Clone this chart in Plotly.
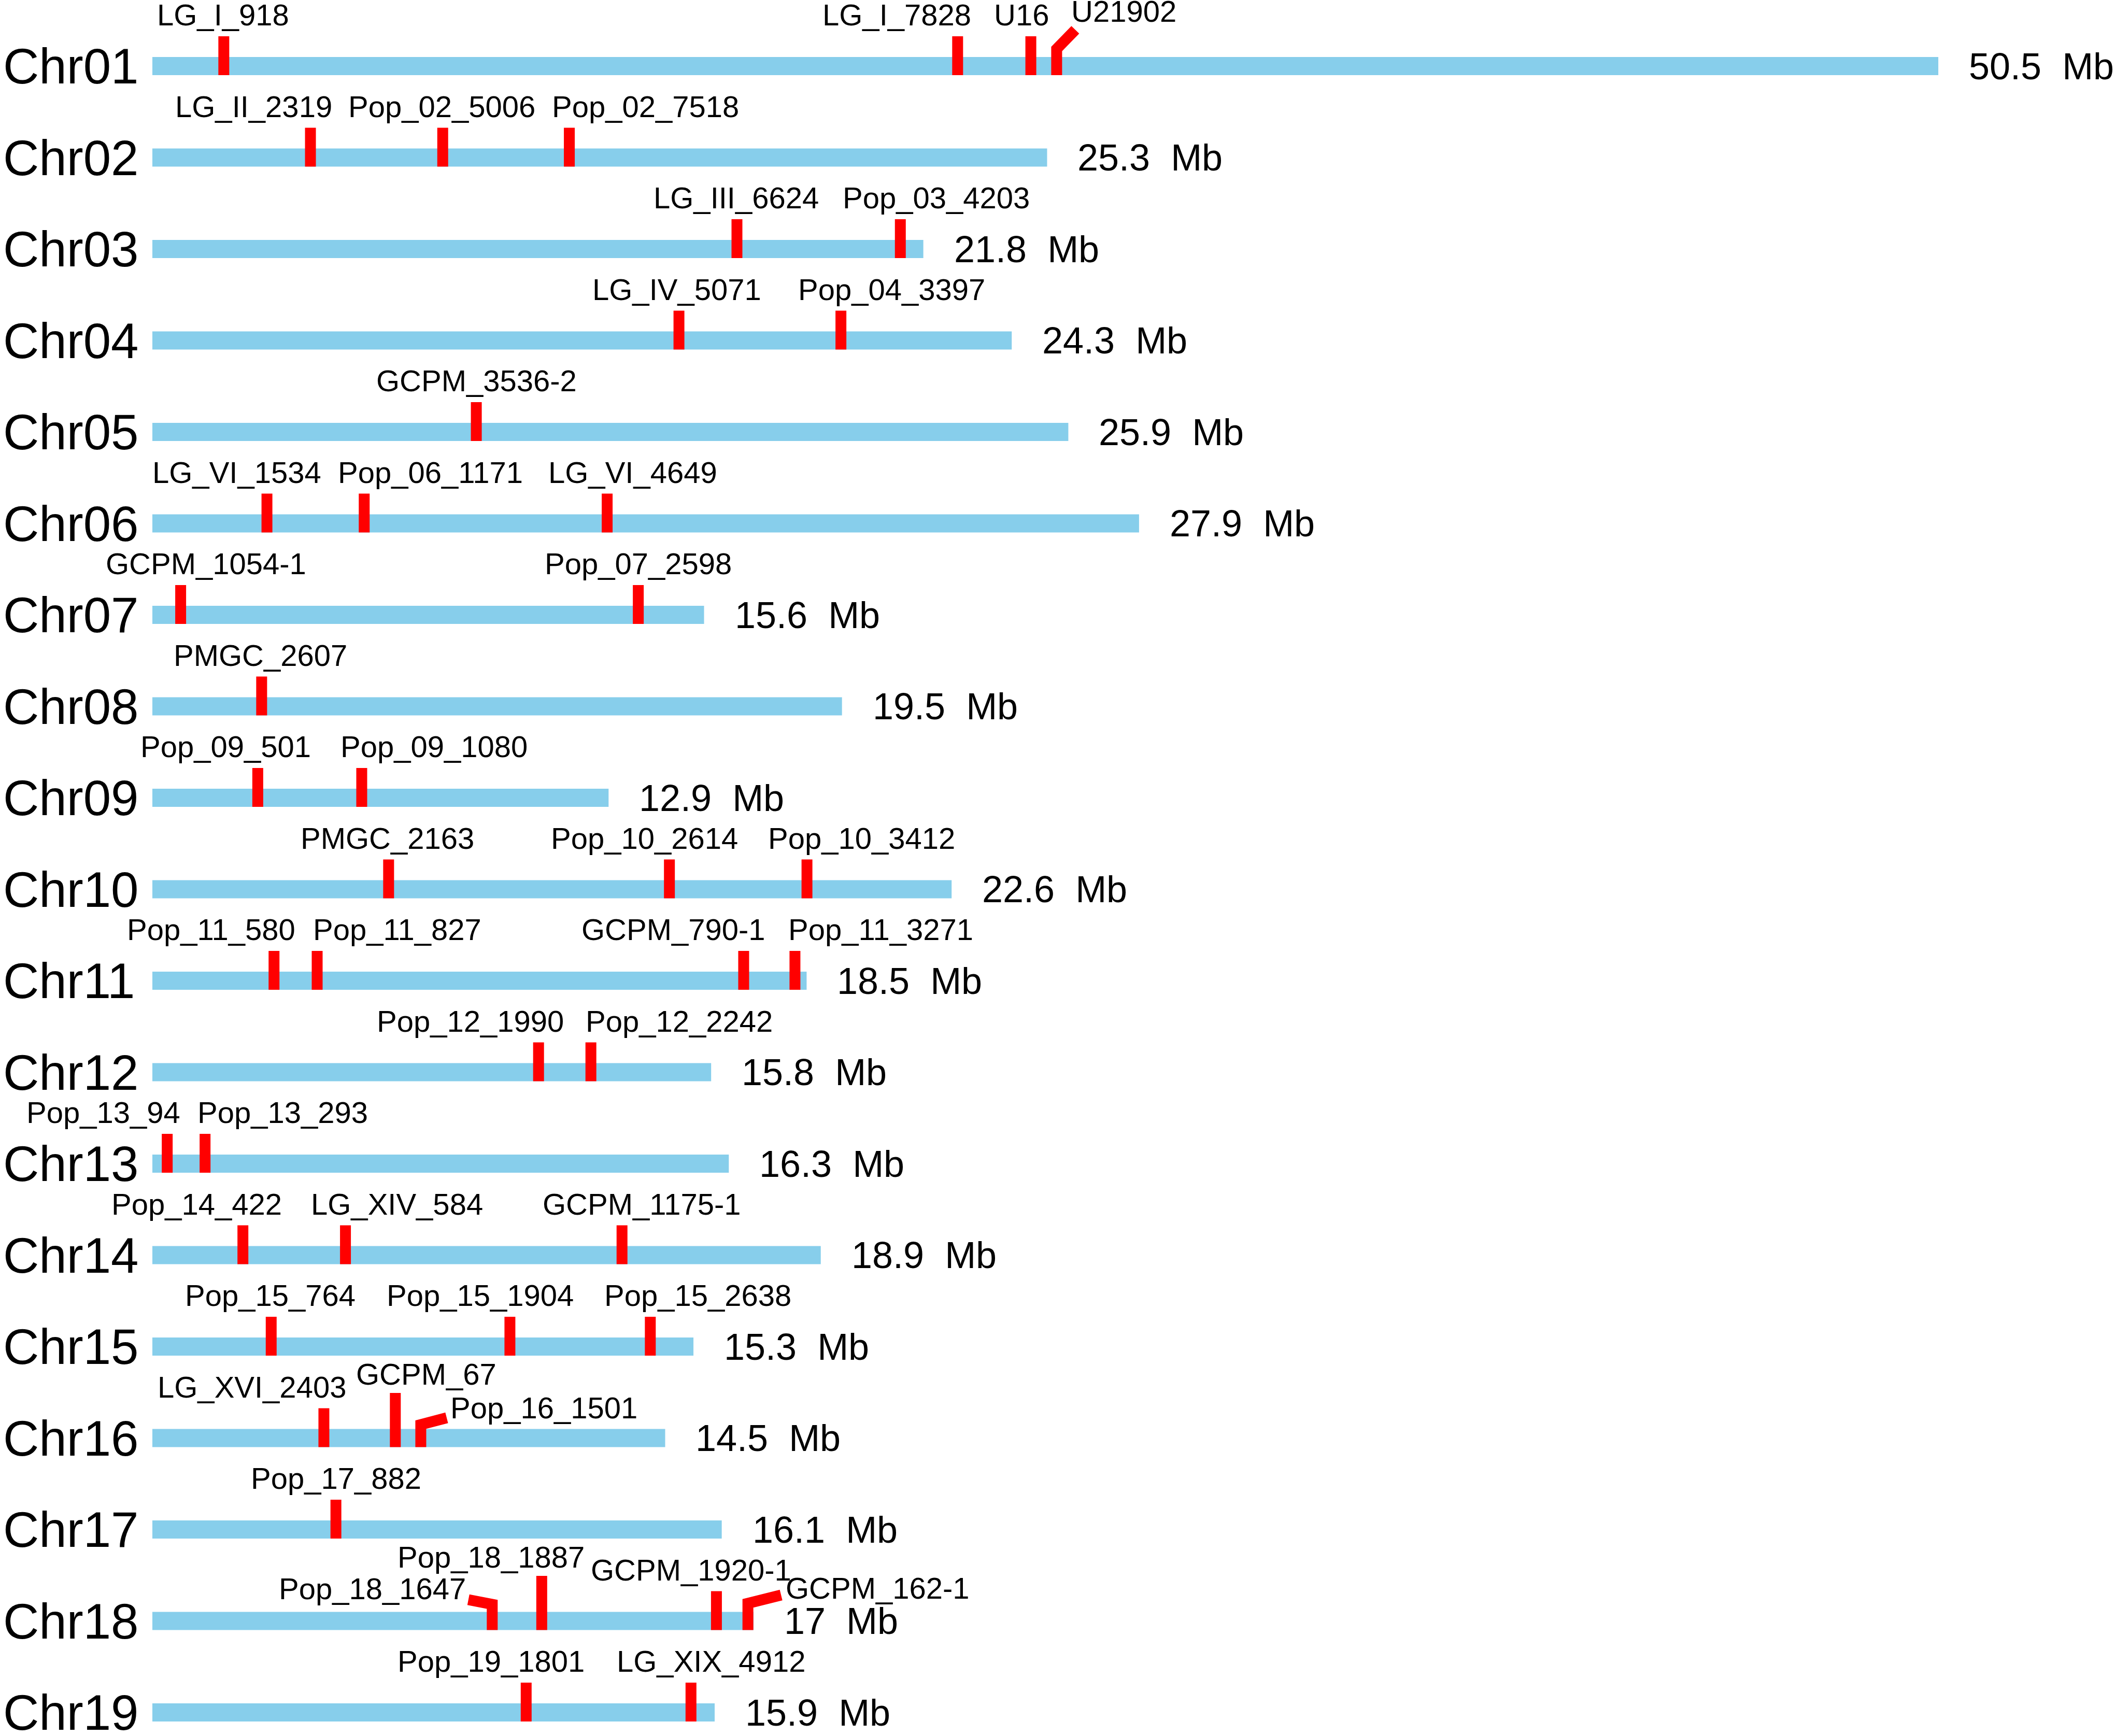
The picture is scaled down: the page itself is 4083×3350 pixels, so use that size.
import plotly.graph_objects as go

# ---------------- data ----------------
chromosomes = ["Chr01", "Chr02", "Chr03", "Chr04", "Chr05", "Chr06", "Chr07", "Chr08", "Chr09", "Chr10",
               "Chr11", "Chr12", "Chr13", "Chr14", "Chr15", "Chr16", "Chr17", "Chr18", "Chr19"]
chrom_lengths = [50.5, 25.3, 21.8, 24.3, 25.9, 27.9, 15.6, 19.5, 12.9, 22.6,
                 18.5, 15.8, 16.3, 18.9, 15.3, 14.5, 16.1, 17, 15.9]

marker_chrom = [0, 0, 0, 0,
                1, 1, 1,
                2, 2,
                3, 3,
                4,
                5, 5, 5,
                6, 6,
                7,
                8, 8,
                9, 9, 9,
                10, 10, 10, 10,
                11, 11,
                12, 12,
                13, 13, 13,
                14, 14, 14,
                15, 15, 15,
                16,
                17, 17, 17, 17,
                18, 18]
marker_names = ["LG_I_918", "LG_I_7828", "U16", "U21902",
                "LG_II_2319", "Pop_02_5006", "Pop_02_7518",
                "LG_III_6624", "Pop_03_4203",
                "LG_IV_5071", "Pop_04_3397",
                "GCPM_3536-2",
                "LG_VI_1534", "Pop_06_1171", "LG_VI_4649",
                "GCPM_1054-1", "Pop_07_2598",
                "PMGC_2607",
                "Pop_09_501", "Pop_09_1080",
                "PMGC_2163", "Pop_10_2614", "Pop_10_3412",
                "Pop_11_580", "Pop_11_827", "GCPM_790-1", "Pop_11_3271",
                "Pop_12_1990", "Pop_12_2242",
                "Pop_13_94", "Pop_13_293",
                "Pop_14_422", "LG_XIV_584", "GCPM_1175-1",
                "Pop_15_764", "Pop_15_1904", "Pop_15_2638",
                "LG_XVI_2403", "GCPM_67", "Pop_16_1501",
                "Pop_17_882",
                "Pop_18_1647", "Pop_18_1887", "GCPM_1920-1", "GCPM_162-1",
                "Pop_19_1801", "LG_XIX_4912"]
marker_pos = [2.02, 22.77, 24.84, 25.57,
              4.47, 8.21, 11.79,
              16.53, 21.15,
              14.89, 19.47,
              9.16,
              3.24, 5.99, 12.86,
              0.80, 13.74,
              3.09,
              2.98, 5.92,
              6.68, 14.62, 18.51,
              3.44, 4.66, 16.72, 18.17,
              10.92, 12.40,
              0.42, 1.49,
              2.56, 5.46, 13.28,
              3.36, 10.11, 14.08,
              4.85, 6.87, 7.59,
              5.19,
              9.61, 11.01, 15.95, 16.84,
              10.57, 15.23]

# ---------------- layout (label placement, geometry) ----------------
label_x = [2.00, 21.05, 24.58, 25.95,
           2.86, 8.19, 13.95,
           16.51, 22.16,
           14.83, 20.90,
           9.16,
           2.39, 7.86, 13.59,
           1.51, 13.74,
           3.05,
           2.08, 7.96,
           6.64, 13.91, 20.06,
           1.66, 6.93, 14.73, 20.59,
           8.99, 14.89,
           -1.39, 3.68,
           1.26, 6.91, 13.84,
           3.34, 9.27, 15.42,
           2.81, 7.75, 8.40,
           5.19,
           8.90, 9.58, 15.23, 17.88,
           9.58, 15.80]

# pixel offsets relative to the row centre (negative = up)
special = {
    "U21902":      dict(path=[(0, -33), (36, -70)], anchor="left", baseline=-84.5),
    "Pop_16_1501": dict(path=[(0, -26), (50, -39)], anchor="left", baseline=-37),
    "Pop_18_1647": dict(path=[(0, -32), (-46, -41)], anchor="right", baseline=-41),
    "GCPM_162-1":  dict(path=[(0, -34), (64, -50)], anchor="left", baseline=-42),
    "GCPM_67":     dict(path=[(0, -87)], anchor="center", baseline=-102),
    "Pop_18_1887": dict(path=[(0, -87)], anchor="center", baseline=-102),
}

W, H = 4083, 3350
X0_PX = 294.0
PX_PER_MB = 68.24
ROW0_PX = 127.5
ROW_PX = 176.5
BAR_PX = 35
MARK_TOP = -57.5
MARK_BOT = 17.5
NORMAL_BASELINE = -77.5
MARK_W = 21

FONT = "Arial, Liberation Sans, sans-serif"
BLUE = "#87CEEB"
RED = "#FF0000"

xr = [-X0_PX / PX_PER_MB, (W - X0_PX) / PX_PER_MB]
yr = [(H - ROW0_PX) / ROW_PX, -ROW0_PX / ROW_PX]


def dx(px):
    return px / PX_PER_MB


def dy(px):
    return px / ROW_PX


fig = go.Figure()

rows = list(range(len(chromosomes)))
fig.add_trace(go.Bar(
    x=chrom_lengths, y=rows, base=0, orientation="h", width=dy(BAR_PX),
    marker=dict(color=BLUE, line=dict(width=0)), hoverinfo="skip", showlegend=False,
))

# markers
mx, my = [], []
for c, name, p in zip(marker_chrom, marker_names, marker_pos):
    sp = special.get(name)
    path = sp["path"] if sp else [(0, MARK_TOP)]
    mx.append(p)
    my.append(c + dy(MARK_BOT))
    for ox, oy in path:
        mx.append(p + dx(ox))
        my.append(c + dy(oy))
    mx.append(None)
    my.append(None)

fig.add_trace(go.Scatter(
    x=mx, y=my, mode="lines", line=dict(color=RED, width=MARK_W),
    hoverinfo="skip", showlegend=False,
))

annotations = []
# chromosome names
for i, ch in enumerate(chromosomes):
    annotations.append(dict(
        x=xr[0] + dx(4), y=i, text=ch, showarrow=False, xanchor="left", yanchor="middle",
        font=dict(family=FONT, size=96, color="black"),
    ))
# length labels
for i, L in enumerate(chrom_lengths):
    annotations.append(dict(
        x=L + dx(57), y=i, text=f"{L:g}\u00a0\u00a0Mb", showarrow=False,
        xanchor="left", yanchor="middle",
        font=dict(family=FONT, size=72, color="black"),
    ))
# marker labels
DESC = 13
for c, name, lx in zip(marker_chrom, marker_names, label_x):
    sp = special.get(name)
    anchor = sp["anchor"] if sp else "center"
    base = sp["baseline"] if sp else NORMAL_BASELINE
    annotations.append(dict(
        x=lx, y=c + dy(base + DESC), text=name, showarrow=False,
        xanchor=anchor, yanchor="bottom",
        font=dict(family=FONT, size=58, color="black"),
    ))

fig.update_layout(
    width=W, height=H, margin=dict(l=0, r=0, t=0, b=0),
    paper_bgcolor="white", plot_bgcolor="white",
    xaxis=dict(range=xr, visible=False, fixedrange=True),
    yaxis=dict(range=yr, visible=False, fixedrange=True),
    annotations=annotations, showlegend=False,
)

fig.write_html(
    "out.html",
    config={"displayModeBar": False},
    post_script="document.body.style.margin='0px'; document.body.style.overflow='hidden';",
)
